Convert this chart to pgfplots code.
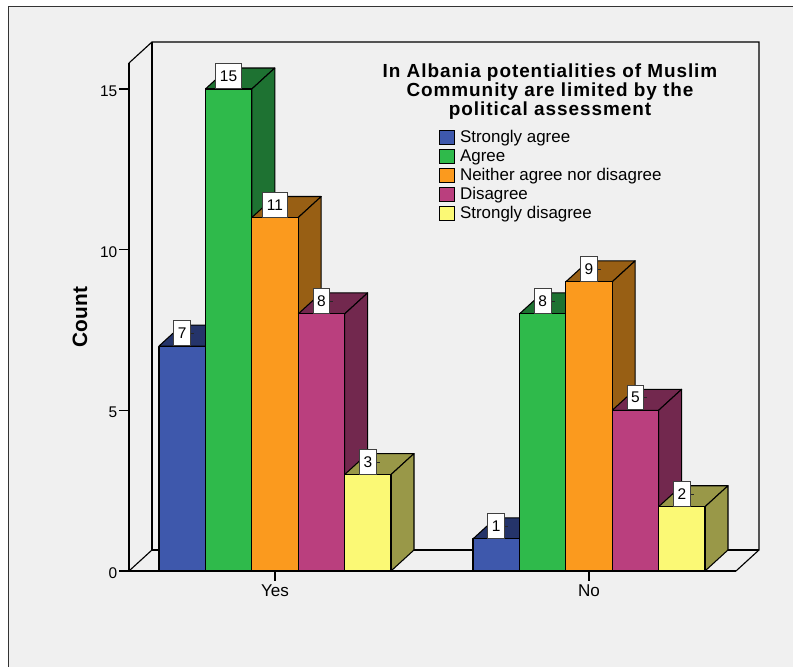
\documentclass[border=0pt]{standalone}
\usepackage{fontspec}
\setmainfont{Liberation Sans}
\usepackage{pgfplots}
\pgfplotsset{compat=1.18}

\definecolor{panel}{HTML}{F0F0F0}
\definecolor{blueF}{HTML}{3E58AC}\definecolor{blueD}{HTML}{25346A}
\definecolor{greenF}{HTML}{2FBA4B}\definecolor{greenD}{HTML}{1E7232}
\definecolor{orangeF}{HTML}{FB9A1E}\definecolor{orangeD}{HTML}{985F14}
\definecolor{pinkF}{HTML}{BA3F7E}\definecolor{pinkD}{HTML}{72284E}
\definecolor{yellowF}{HTML}{FBF975}\definecolor{yellowD}{HTML}{999848}

% Depth offset of the bars and walls: 23 units to the right, 0.654 counts up.
% Arguments: left edge, count, colour stem (front face and darker shade).
\newcommand{\threedbar}[3]{%
  \pgfmathsetmacro\xr{#1+46.4}%
  \pgfmathsetmacro\xa{#1+23}%
  \pgfmathsetmacro\xb{#1+69.4}%
  \pgfmathsetmacro\yt{#2+0.654}%
  \addplot[forget plot,fill=#3D,draw=black,line width=0.8pt,line join=round]
    coordinates {(#1,#2)(\xa,\yt)(\xb,\yt)(\xr,#2)(#1,#2)};
  \addplot[forget plot,fill=#3D,draw=black,line width=0.8pt,line join=round]
    coordinates {(\xr,0)(\xb,0.654)(\xb,\yt)(\xr,#2)(\xr,0)};
  \addplot[forget plot,fill=#3F,draw=black,line width=0.8pt,line join=round]
    coordinates {(#1,0)(\xr,0)(\xr,#2)(#1,#2)(#1,0)};
  \draw[black!85,line width=0.7pt] (axis cs:#1+23.2,#2+0.39) -- (axis cs:#1+35.2,#2+0.39);
  \node[anchor=south,fill=white,draw=black!75,line width=0.7pt,inner xsep=3.1pt,inner ysep=0pt,
        minimum height=18.5pt,minimum width=12pt,font=\fontsize{11.6pt}{12pt}\selectfont]
    at (axis cs:#1+23.2,#2) {#2};
}

\begin{document}
\begin{tikzpicture}[x=0.75pt,y=0.75pt]
  % Page and outer panel
  \path[use as bounding box,fill=white] (0,0) rectangle (793,667);
  \fill[panel] (8.5,0) rectangle (793,660.5);
  \draw[black!80,line width=1.1pt] (8.5,0) -- (8.5,660.5) -- (793,660.5);

  \begin{axis}[
    at={(96.75pt,72pt)},anchor=south west,
    scale only axis,width=455.25pt,height=381pt,
    xmin=129,xmax=736,ymin=0,ymax=15.81,
    clip=false,
    axis x line=bottom,axis y line=left,
    axis line style={-,line width=0.85pt,black},
    tick align=outside,major tick length=7.5pt,
    tick style={black,line width=0.85pt},
    ytick={0,5,10,15},
    xtick={275,589},xticklabels={Yes,No},
    tick label style={font=\fontsize{11.6pt}{12pt}\selectfont},
    x tick label style={font=\fontsize{12.8pt}{13pt}\selectfont,yshift=0.5pt},
    y tick label style={xshift=2.2pt,yshift=-1.7pt},
    /pgf/number format/assume math mode=true,
    ylabel={\bfseries Count},
    ylabel style={at={(axis description cs:-0.0807,0.5)},anchor=center,
      font=\fontsize{15.6pt}{16pt}\selectfont},
    legend style={at={(axis description cs:0.5103,0.8686)},anchor=north west,
      draw=none,fill=none,inner sep=0pt,row sep=3.1pt,
      nodes={inner sep=0pt,anchor=west,font=\fontsize{12.7pt}{14.3pt}\selectfont},
      /tikz/column 1/.style={column sep=3.6pt}},
    legend cell align=left,
    legend image code/.code={\draw[#1,line width=0.8pt] (0pt,-5.2pt) rectangle (11.4pt,5.2pt);},
  ]
    % Walls and floor of the box behind the bars
    \addplot[forget plot,black,line width=0.85pt]
      coordinates {(129,15.81)(152,16.464)(759,16.464)(759,0.654)(736,0)};
    \addplot[forget plot,black,line width=0.85pt]
      coordinates {(152,16.464)(152,0.654)(759,0.654)};
    \addplot[forget plot,black,line width=0.85pt]
      coordinates {(129,0)(152,0.654)};

    % Yes group
    \threedbar{159}{7}{blue}
    \threedbar{205.4}{15}{green}
    \threedbar{251.8}{11}{orange}
    \threedbar{298.2}{8}{pink}
    \threedbar{344.6}{3}{yellow}
    % No group
    \threedbar{473}{1}{blue}
    \threedbar{519.4}{8}{green}
    \threedbar{565.8}{9}{orange}
    \threedbar{612.2}{5}{pink}
    \threedbar{658.6}{2}{yellow}

    \node[align=center,font=\fontsize{14.2pt}{14.3pt}\selectfont\bfseries\addfontfeatures{LetterSpace=5}]
      at (axis cs:550,14.92) {In Albania potentialities of Muslim\\Community are limited by the\\political assessment};

    \addlegendimage{fill=blueF,draw=black}\addlegendentry{Strongly agree}
    \addlegendimage{fill=greenF,draw=black}\addlegendentry{Agree}
    \addlegendimage{fill=orangeF,draw=black}\addlegendentry{Neither agree nor disagree}
    \addlegendimage{fill=pinkF,draw=black}\addlegendentry{Disagree}
    \addlegendimage{fill=yellowF,draw=black}\addlegendentry{Strongly disagree}
  \end{axis}
\end{tikzpicture}
\end{document}
